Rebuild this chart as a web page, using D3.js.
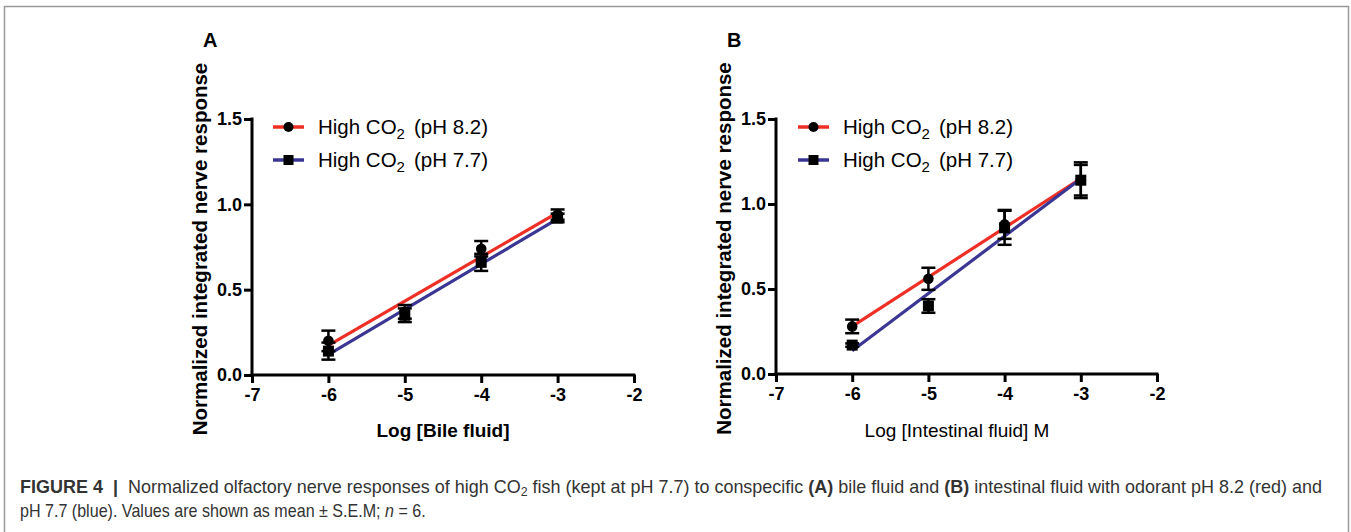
<!DOCTYPE html>
<html><head><meta charset="utf-8">
<script src="https://cdn.jsdelivr.net/npm/d3@7"></script>
<style>
body{margin:0;background:#fff;}
svg{display:block;font-family:"Liberation Sans",Arial,Helvetica,sans-serif;}
</style></head>
<body>
<svg id="c" width="1351" height="532"></svg>
<script>
// ---- data ----
const xValues = [-6, -5, -4, -3];
const xTicks = [-7, -6, -5, -4, -3, -2];
const yTicks = [0, 0.5, 1.0, 1.5];
const xTickLabels = ["-7", "-6", "-5", "-4", "-3", "-2"];
const yTickLabels = ["0.0", "0.5", "1.0", "1.5"];
const seriesNames = ["High CO", "High CO"];
const seriesSuffix = ["(pH 8.2)", "(pH 7.7)"];
const seriesColors = ["#ee2f25", "#3b3693"];
// Panel A: bile fluid
const bileMean82 = [0.20, 0.37, 0.74, 0.94];
const bileSem82  = [0.06, 0.04, 0.045, 0.03];
const bileMean77 = [0.14, 0.35, 0.66, 0.92];
const bileSem77  = [0.05, 0.04, 0.05, 0.025];
// Panel B: intestinal fluid
const intMean82 = [0.28, 0.56, 0.88, 1.14];
const intSem82  = [0.04, 0.065, 0.085, 0.105];
const intMean77 = [0.17, 0.40, 0.86, 1.14];
const intSem77  = [0.01, 0.04, 0.10, 0.09];

const svg = d3.select("#c");

// frame
svg.append("path").attr("d","M4.5,532 L4.5,6.5 L1348.5,6.5 L1348.5,532")
  .attr("fill","none").attr("stroke","#999").attr("stroke-width",1.5);

function fit(xs, ys){
  const mx = d3.mean(xs), my = d3.mean(ys);
  let sxy=0, sxx=0;
  xs.forEach((x,i)=>{sxy+=(x-mx)*(ys[i]-my); sxx+=(x-mx)*(x-mx);});
  const b = sxy/sxx, a = my - b*mx;
  return x => a + b*x;
}

function panel(opt){
  const g = svg.append("g");
  const x = d3.scaleLinear().domain([-7,-2]).range([opt.x0, opt.x1]);
  const y = d3.scaleLinear().domain([0,1.5]).range([opt.y0, opt.y1]);

  const xAxis = d3.axisBottom(x).tickValues(xTicks).tickSize(8).tickPadding(5)
    .tickFormat((d,i)=>xTickLabels[i]);
  const yAxis = d3.axisLeft(y).tickValues(yTicks).tickSize(8).tickPadding(2)
    .tickFormat((d,i)=>yTickLabels[i]);
  const gx = g.append("g").attr("transform",`translate(0,${opt.y0})`).call(xAxis);
  const gy = g.append("g").attr("transform",`translate(${opt.x0},0)`).call(yAxis);
  [gx,gy].forEach(a=>{
    a.select(".domain").remove();
    a.selectAll(".tick line").attr("stroke","#000").attr("stroke-width",3);
    a.selectAll(".tick text").attr("fill","#000").attr("font-size",18).attr("font-weight","bold")
      .attr("font-family","Liberation Sans, Arial, sans-serif");
  });
  g.append("line").attr("x1",opt.x0-1.5).attr("x2",opt.x1+1.5).attr("y1",opt.y0).attr("y2",opt.y0)
    .attr("stroke","#000").attr("stroke-width",3);
  g.append("line").attr("x1",opt.x0).attr("x2",opt.x0).attr("y1",opt.y1-1.5).attr("y2",opt.y0)
    .attr("stroke","#000").attr("stroke-width",3);

  // axis titles
  g.append("text").attr("transform",`translate(${opt.yTitleX},${(opt.y0+opt.y1)/2+2}) rotate(-90)`)
    .attr("text-anchor","middle").attr("font-size",20.5).attr("font-weight","bold")
    .text("Normalized integrated nerve response");
  g.append("text").attr("x",opt.xTitleCx).attr("y",opt.xTitleY).attr("text-anchor","middle")
    .attr("font-size",19).attr("font-weight",opt.xTitleBold?"bold":"normal").text(opt.xTitle);
  // panel letter
  g.append("text").attr("x",opt.letterX).attr("y",47).attr("font-size",20).attr("font-weight","bold").text(opt.letter);

  const series = [
    {m:opt.m82, s:opt.s82, c:seriesColors[0], shape:"circle"},
    {m:opt.m77, s:opt.s77, c:seriesColors[1], shape:"square"}
  ];
  series.forEach(se=>{
    const f = fit(xValues, se.m);
    g.append("line").attr("x1",x(-6)).attr("x2",x(-3)).attr("y1",y(f(-6))).attr("y2",y(f(-3)))
      .attr("stroke",se.c).attr("stroke-width",3.2);
  });
  series.forEach(se=>{
    const eg = g.append("g");
    xValues.forEach((xv,i)=>{
      const cx = x(xv), top = y(se.m[i]+se.s[i]), bot = y(se.m[i]-se.s[i]);
      eg.append("line").attr("x1",cx).attr("x2",cx).attr("y1",top).attr("y2",bot).attr("stroke","#000").attr("stroke-width",2.5);
      [top,bot].forEach(yy=>eg.append("line").attr("x1",cx-7).attr("x2",cx+7).attr("y1",yy).attr("y2",yy)
        .attr("stroke","#000").attr("stroke-width",2.5));
      if(se.shape==="circle") eg.append("circle").attr("cx",cx).attr("cy",y(se.m[i])).attr("r",5.3).attr("fill","#000");
      else eg.append("rect").attr("x",cx-5.5).attr("y",y(se.m[i])-5.5).attr("width",11).attr("height",11).attr("fill","#000");
    });
  });

  // legend
  const lg = g.append("g");
  series.forEach((se,i)=>{
    const ly = opt.legY[i];
    lg.append("line").attr("x1",opt.legX).attr("x2",opt.legX+31).attr("y1",ly).attr("y2",ly)
      .attr("stroke",se.c).attr("stroke-width",3.5);
    const mx = opt.legX+15.5;
    if(se.shape==="circle") lg.append("circle").attr("cx",mx).attr("cy",ly).attr("r",5).attr("fill","#000");
    else lg.append("rect").attr("x",mx-5).attr("y",ly-5).attr("width",10).attr("height",10).attr("fill","#000");
    const t = lg.append("text").attr("x",opt.legX+45).attr("y",ly+7).attr("font-size",20.5);
    t.append("tspan").text(seriesNames[i]);
    t.append("tspan").attr("dy",5).attr("font-size",15).text("2");
    t.append("tspan").attr("dy",-5).attr("dx",9).text(seriesSuffix[i]);
  });
}

panel({x0:252, x1:634, y0:375, y1:119, letter:"A", letterX:203, yTitleX:207,
  xTitle:"Log [Bile fluid]", xTitleBold:true, xTitleCx:443, xTitleY:437,
  m82:bileMean82, s82:bileSem82, m77:bileMean77, s77:bileSem77, legX:273, legY:[127,160]});
panel({x0:776, x1:1157, y0:374, y1:119, letter:"B", letterX:727, yTitleX:731,
  xTitle:"Log [Intestinal fluid] M", xTitleBold:false, xTitleCx:957, xTitleY:437,
  m82:intMean82, s82:intSem82, m77:intMean77, s77:intSem77, legX:798, legY:[127,160]});

// caption (scaled horizontally to the reference widths)
const cap = svg.append("g").attr("fill","#333").attr("font-size",17.5);
function fitLine(t, x0, yb, width){
  const w = t.node().getBBox().width;
  t.attr("transform",`translate(${x0},${yb}) scale(${width/w},1)`);
}
const l1 = cap.append("text").attr("x",0).attr("y",0);
l1.append("tspan").attr("font-weight","bold").text("FIGURE 4 \u00a0|\u00a0 ");
l1.append("tspan").text("Normalized olfactory nerve responses of high CO");
l1.append("tspan").attr("font-size",12).attr("dy",3).text("2");
l1.append("tspan").attr("dy",-3).text(" fish (kept at pH 7.7) to conspecific ");
l1.append("tspan").attr("font-weight","bold").text("(A)");
l1.append("tspan").text(" bile fluid and ");
l1.append("tspan").attr("font-weight","bold").text("(B)");
l1.append("tspan").text(" intestinal fluid with odorant pH 8.2 (red) and");
fitLine(l1, 20, 493, 1303);
const l2 = cap.append("text").attr("x",0).attr("y",0);
l2.append("tspan").text("pH 7.7 (blue). Values are shown as mean \u00b1 S.E.M; ");
l2.append("tspan").attr("font-style","italic").text("n");
l2.append("tspan").text(" = 6.");
fitLine(l2, 20, 517, 406);
</script>
</body></html>
